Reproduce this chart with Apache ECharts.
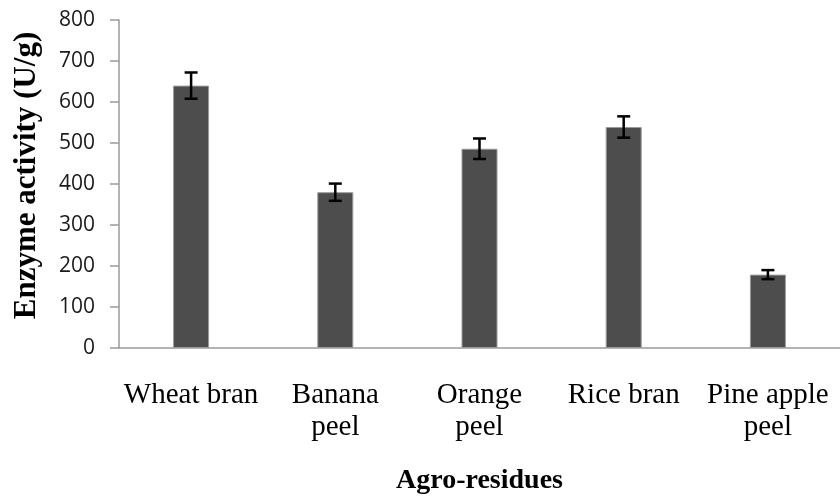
<!DOCTYPE html>
<html>
<head>
<meta charset="utf-8">
<script src="https://cdn.jsdelivr.net/npm/echarts@6/dist/echarts.min.js"></script>
<style>
html,body{margin:0;padding:0;background:#fff;}
#chart{width:840px;height:500px;}
</style>
</head>
<body>
<div id="chart"></div>
<script>
var categories = ['Wheat bran', 'Banana\npeel', 'Orange\npeel', 'Rice bran', 'Pine apple\npeel'];
var activity = [640, 380, 486, 539, 179];
var errors = [32, 21, 25, 26, 11];
var yTicks = [0, 100, 200, 300, 400, 500, 600, 700, 800];

var chart = echarts.init(document.getElementById('chart'));
var errData = activity.map(function (v, i) { return [i, v - errors[i], v + errors[i]]; });

chart.setOption({
  animation: false,
  grid: { left: 119, right: 0, top: 20, bottom: 151 },
  xAxis: {
    type: 'category',
    data: categories,
    name: 'Agro-residues',
    nameLocation: 'middle',
    nameGap: 119,
    nameTextStyle: { fontFamily: 'Liberation Serif', fontWeight: 'bold', fontSize: 28, color: '#000' },
    axisLine: { lineStyle: { color: '#9a9a9a', width: 1.5 } },
    axisTick: { show: false },
    axisLabel: { fontFamily: 'Liberation Serif', fontSize: 29, lineHeight: 32, color: '#000', margin: 31, interval: 0 }
  },
  yAxis: {
    type: 'value',
    min: yTicks[0],
    max: yTicks[yTicks.length - 1],
    interval: 100,
    name: 'Enzyme activity (U/g)',
    nameLocation: 'middle',
    nameGap: 77,
    nameTextStyle: { fontFamily: 'Liberation Serif', fontWeight: 'bold', fontSize: 31, color: '#000', padding: [0, 0, 0, 17] },
    axisLine: { show: true, lineStyle: { color: '#9a9a9a', width: 1.5 } },
    axisTick: { show: true, length: 9, lineStyle: { color: '#9a9a9a', width: 1.5 } },
    splitLine: { show: false },
    axisLabel: { fontFamily: 'Open Sans', fontSize: 21, color: '#1a1a1a', margin: 24 }
  },
  series: [
    {
      type: 'bar',
      data: activity,
      barWidth: 36,
      itemStyle: { color: '#4d4d4d', borderColor: '#9a9a9a', borderWidth: 1 }
    },
    {
      type: 'custom',
      data: errData,
      z: 10,
      renderItem: function (params, api) {
        var x = api.value(0);
        var lo = api.coord([x, api.value(1)]);
        var hi = api.coord([x, api.value(2)]);
        var hw = 6.5;
        var st = { stroke: '#000', lineWidth: 2.5 };
        return {
          type: 'group',
          children: [
            { type: 'line', shape: { x1: lo[0], y1: lo[1], x2: hi[0], y2: hi[1] }, style: st },
            { type: 'line', shape: { x1: lo[0] - hw, y1: lo[1], x2: lo[0] + hw, y2: lo[1] }, style: st },
            { type: 'line', shape: { x1: hi[0] - hw, y1: hi[1], x2: hi[0] + hw, y2: hi[1] }, style: st }
          ]
        };
      }
    }
  ]
});
</script>
</body>
</html>
